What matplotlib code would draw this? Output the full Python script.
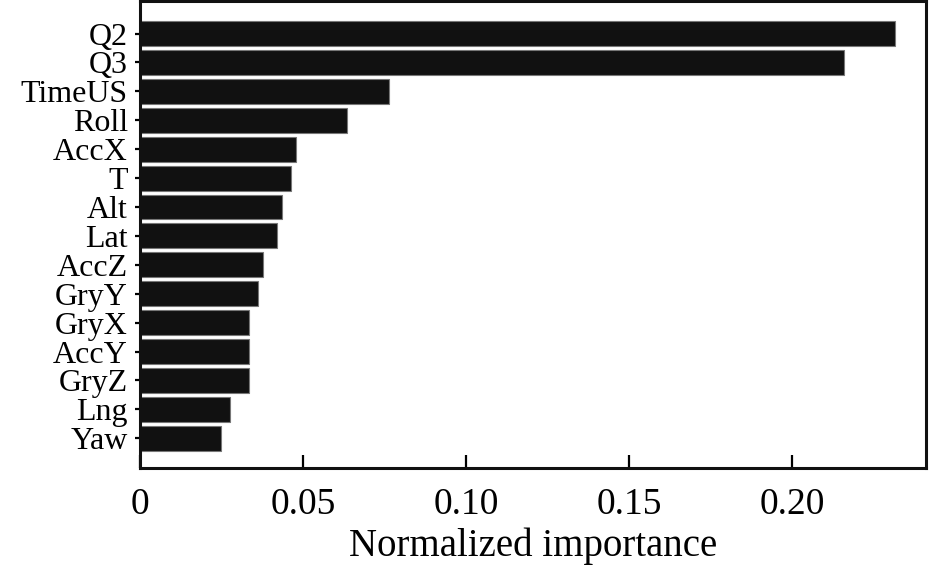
import matplotlib.pyplot as plt
import numpy as np

plt.rcParams['font.family'] = ['Liberation Serif', 'DejaVu Serif']

features = ["Q2", "Q3", "TimeUS", "Roll", "AccX", "T", "Alt", "Lat",
            "AccZ", "GryY", "GryX", "AccY", "GryZ", "Lng", "Yaw"]
importance = [0.2317, 0.2160, 0.0765, 0.0636, 0.0479, 0.0463, 0.0435, 0.0421,
              0.0377, 0.0363, 0.0334, 0.0334, 0.0334, 0.0277, 0.0248]
xticks = [0, 0.05, 0.10, 0.15, 0.20]
xticklabels = ["0", "0.05", "0.10", "0.15", "0.20"]

fig = plt.figure(figsize=(9.45, 5.67), dpi=100)
ax = fig.add_axes([0.148, 0.175, 0.832, 0.823])

y = np.arange(len(features))[::-1]
ax.barh(y, importance, height=0.86, color="#111111",
        edgecolor="#777777", linewidth=0.8)

ax.set_xlim(0, 0.2411)
ax.set_ylim(-1.02, len(features) - 1 + 1.12)
ax.set_yticks(y)
ax.set_yticklabels(features, fontsize=23)
ax.set_xticks(xticks)
ax.set_xticklabels(xticklabels, fontsize=27)
ax.set_xlabel("Normalized importance", fontsize=28, labelpad=4)

for s in ax.spines.values():
    s.set_linewidth(2.2)
    s.set_color("#111111")

ax.tick_params(axis="y", direction="out", length=3.6, width=1.6, pad=5)
ax.tick_params(axis="x", direction="in", length=9.5, width=1.6, pad=14)

fig.savefig("out.png", dpi=100)
